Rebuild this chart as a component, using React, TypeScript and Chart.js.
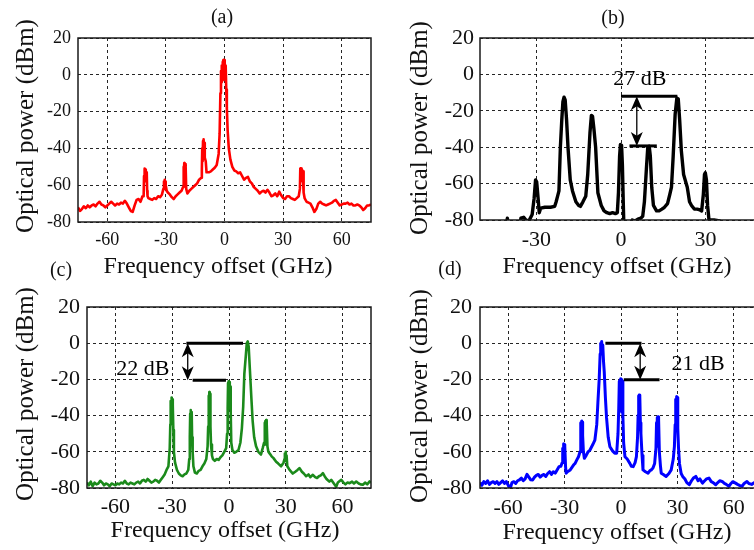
import React, { useEffect, useRef } from "react";
import { Chart, registerables } from "chart.js";

Chart.register(...registerables);

// ---------- tick labels ----------
const freqTicksWide = [-60, -30, 0, 30, 60];
const freqTicksB = [-30, 0, 30];
const powerTicks = [20, 0, -20, -40, -60, -80];

// ---------- spectra: [frequency offset (GHz), optical power (dBm)] ----------
const spectrumA: [number, number][] = [
  [-75,-72],[-74,-74],[-73,-73],[-72,-71.5],[-71,-72.5],[-70,-71],[-69,-72],[-68,-71],[-67,-70.5],[-66,-71.5],[-65,-70],[-64,-69],[-63,-70.5],[-62,-71],[-61,-72],[-60,-71],[-59,-70],[-58,-69],[-57,-70],[-56,-71],[-55,-70],[-54,-70.5],[-53,-69.5],[-52,-70],[-51,-68.5],[-50,-70],[-49,-72],[-48,-74],[-47,-74.5],[-46,-71],[-45,-68],[-44,-67.5],[-43,-69],[-42,-66],[-41.4,-66],[-41.2,-55],[-41,-51],[-40.8,-58],[-40.6,-51.5],[-40.4,-57],[-40.2,-52],[-40,-56],[-39.8,-53],[-39.6,-63],[-39.4,-66],[-39,-67],[-38,-67.5],[-37,-68],[-36,-67],[-35,-67.5],[-34,-66],[-33,-66.5],[-32,-65],[-31.3,-62],[-31,-58],[-30.8,-62],[-30.6,-57],[-30.4,-61],[-30.2,-58],[-30,-60],[-29.6,-63],[-29,-64],[-28,-65],[-27,-66.5],[-26,-67.5],[-25,-66],[-24,-65],[-23,-64],[-22,-63],[-21.2,-61],[-21,-50],[-20.8,-57],[-20.6,-48],[-20.4,-55],[-20.2,-48.5],[-20,-54],[-19.8,-49.5],[-19.6,-62],[-19,-64.5],[-18,-63],[-17,-62],[-16,-61],[-15,-60],[-14,-59],[-13,-57],[-12,-56],[-11.6,-52],[-11.4,-40],[-11.2,-47],[-11,-36],[-10.8,-45],[-10.6,-35],[-10.4,-44],[-10.2,-37],[-10,-45],[-9.6,-47],[-9.2,-53],[-8,-53],[-7,-52.5],[-6,-51.5],[-5,-50.5],[-4,-49],[-3,-43],[-2.5,-32],[-2.1,-10],[-1.8,2],[-1.6,-4],[-1.4,5],[-1.2,-3],[-1,7],[-0.8,-2],[-0.6,8],[-0.4,-1],[-0.2,8],[0,0],[0.2,7],[0.4,-3],[0.6,5],[0.9,-8],[1.2,-18],[1.6,-30],[2.2,-40],[3,-46],[4,-50],[5,-52],[6,-52.5],[7,-53.5],[8,-53],[9,-55],[10,-57],[11,-56],[12,-55.5],[13,-58],[14,-59],[15,-61],[16,-62],[17,-63],[18,-64.5],[19,-63.5],[20,-63],[21,-64],[22,-62.5],[23,-64],[24,-66],[25,-65.5],[26,-64.5],[27,-66],[28,-63.5],[29,-65.5],[30,-67],[31,-67.5],[32,-66],[33,-66],[34,-67],[35,-67.5],[36,-68],[37,-67],[38,-66],[38.6,-62],[38.8,-51],[39,-58],[39.2,-51],[39.4,-57],[39.6,-51.5],[39.8,-56],[40,-52],[40.2,-57],[40.4,-52.5],[40.6,-64],[41,-67],[42,-69],[43,-69.5],[44,-70],[45,-72],[46,-74.5],[47,-73],[48,-70],[49,-69],[50,-70],[51,-70.5],[52,-71],[53,-70.5],[54,-70],[55,-69.5],[56,-68.5],[57,-68],[58,-69.5],[59,-71],[60,-70.5],[61,-70],[62,-70],[63,-69.5],[64,-70.5],[65,-70],[66,-71],[67,-71],[68,-70.5],[69,-71],[70,-72],[71,-73.5],[72,-72.5],[73,-71],[74,-71],[75,-70.5]
];

const spectrumB: [number, number][] = [
  [-41,-86],[-40.3,-79],[-39.7,-86],[-36,-86],[-35.5,-79],[-34.5,-78.5],[-33.5,-80.5],[-32.5,-80],[-31.5,-77],[-30.8,-68],[-30.3,-58],[-29.9,-59],[-29.4,-68],[-29,-76],[-28.5,-73.5],[-27,-73],[-25,-73],[-23.5,-72.5],[-23,-70],[-22.5,-67],[-22,-64],[-21.5,-40],[-21,-25],[-20.6,-15],[-20.2,-12.5],[-19.8,-14],[-19.3,-25],[-18.8,-40],[-18,-58],[-17.2,-64],[-16,-70],[-15,-72],[-14.4,-72.5],[-13.5,-70],[-12.5,-67],[-11.8,-55],[-11,-32],[-10.5,-22.5],[-10.1,-23],[-9.6,-30],[-9,-40],[-8.2,-65],[-7,-72],[-6,-75],[-5,-76],[-4,-76.5],[-3,-76],[-2,-76.5],[-1.3,-76],[-0.9,-65],[-0.5,-45],[-0.2,-38.5],[0.2,-39],[0.5,-50],[0.8,-70],[1.1,-88],[3,-88],[4,-80],[5,-80.5],[6,-79.5],[7,-79],[7.7,-78],[8.3,-70],[9,-52],[9.5,-40],[10,-39.5],[10.4,-45],[10.9,-62],[11.5,-72],[12.6,-75],[13.5,-75],[14.5,-74],[15.4,-73],[16.5,-71],[17.3,-66],[17.9,-62],[18.5,-45],[19.2,-22],[19.8,-13],[20.3,-13.5],[20.8,-25],[21.4,-42],[22.2,-55],[23.5,-62],[24.3,-70],[25,-72],[26,-74],[27,-74],[28,-74.5],[28.6,-75],[29.2,-66],[29.6,-55],[29.9,-54],[30.3,-58],[30.7,-72],[31.2,-80],[33,-80],[35,-80.5],[36,-86]
];

const spectrumC: [number, number][] = [
  [-75,-77],[-74,-78.5],[-73,-76.5],[-72,-79],[-71,-77],[-70,-78],[-69,-77.5],[-68,-76],[-67,-77],[-66,-78.5],[-65,-77.5],[-64,-78],[-63,-79],[-62,-77.5],[-61,-78],[-60,-78.5],[-59,-77.5],[-58,-78],[-57,-77],[-56,-77.5],[-55,-76],[-54,-77.5],[-53,-78],[-52,-77],[-51,-77.5],[-50,-78],[-49,-77],[-48,-76.5],[-47,-77.5],[-46,-76],[-45,-75.5],[-44,-76.5],[-43,-75],[-42,-76],[-41,-77],[-40,-76.5],[-39,-75.5],[-38,-76],[-37,-77],[-36,-75.5],[-35,-74],[-34,-72.5],[-33,-70],[-32,-68],[-31.3,-58],[-31,-45],[-30.8,-32],[-30.6,-44],[-30.4,-30],[-30.2,-43],[-30,-31],[-29.8,-45],[-29.6,-34],[-29.4,-48],[-29.1,-60],[-28.5,-66],[-27.5,-70],[-26.5,-72],[-25.5,-73],[-24.5,-73.5],[-23.5,-72.5],[-22.5,-72],[-21.5,-70],[-21,-64],[-20.7,-52],[-20.5,-39],[-20.3,-50],[-20.1,-37],[-19.9,-50],[-19.7,-38],[-19.5,-52],[-19.2,-60],[-18.8,-68],[-18,-71.5],[-17,-72],[-16,-70.5],[-15,-70],[-14,-68],[-13,-66.5],[-12,-64],[-11.3,-57],[-11,-46],[-10.8,-29],[-10.6,-44],[-10.4,-27],[-10.2,-44],[-10,-28],[-9.8,-46],[-9.5,-56],[-9,-62],[-8.5,-64],[-7.5,-65],[-6.5,-64],[-5.5,-64.5],[-4.5,-63],[-3.5,-62],[-2.5,-60],[-1.5,-58],[-1,-50],[-0.7,-36],[-0.5,-22],[-0.3,-35],[-0.1,-21],[0.1,-35],[0.3,-21.5],[0.5,-36],[0.7,-24],[0.9,-38],[1.2,-55],[1.8,-59],[2.8,-60.5],[3.8,-60],[5,-59],[6,-55],[6.8,-47],[7.5,-35],[8.1,-17],[8.8,-8],[9.4,0],[9.9,1],[10.4,-2],[11,-14],[11.8,-30],[12.5,-43],[13.3,-52],[14.3,-57],[15.5,-60],[16.9,-61.5],[17.8,-58],[18.5,-55],[18.8,-44],[19,-56],[19.2,-43],[19.4,-56],[19.6,-42.5],[19.8,-56],[20,-44],[20.3,-57],[20.8,-60],[21.5,-61],[22.5,-62.5],[23.5,-63.5],[24.9,-65.5],[26,-66.5],[27.5,-68],[28.8,-66],[29.3,-64],[29.5,-61],[29.7,-65],[29.9,-60],[30.1,-65],[30.4,-62],[30.8,-68],[32,-70],[33.7,-72],[35,-71],[36.2,-70],[37.2,-69],[38.5,-71],[39.5,-72],[40.7,-73.5],[42,-72.5],[43,-74],[44.3,-72.7],[45.5,-74],[46.5,-74.5],[47.5,-73.5],[48.5,-73],[49.6,-71.8],[50.5,-73.5],[51.5,-75],[53,-76.5],[54,-75.5],[55,-77],[56.6,-79.3],[57.5,-77],[59.3,-75.5],[60.5,-77],[61.5,-78],[62.5,-77],[63.7,-77.3],[65,-76.5],[66,-77.5],[67.2,-76.4],[68.5,-77.5],[69.5,-78],[70.7,-78.2],[72,-77],[73,-78],[74.2,-76.4],[75,-77]
];

const spectrumD: [number, number][] = [
  [-75,-77],[-74,-78.5],[-73,-76.5],[-72,-77.5],[-71,-76],[-70,-78],[-69,-77],[-68,-76.5],[-67,-77.5],[-66,-76.5],[-65,-78],[-64,-77],[-63,-76],[-62,-77.5],[-61,-76.5],[-60,-78.5],[-59,-80.5],[-58,-77],[-57,-76.5],[-56,-77.5],[-55,-76],[-54,-75.5],[-53,-74.5],[-52,-76],[-51,-75],[-50,-72.5],[-49,-74],[-48,-75.5],[-47,-75.6],[-46,-74],[-45,-73],[-44,-72.5],[-43,-74],[-42,-73],[-41,-72.5],[-40,-73.6],[-39,-72],[-38,-71],[-37,-72.5],[-36,-71],[-35,-71.8],[-34,-70],[-33,-68.2],[-32,-68],[-31.3,-66],[-31,-58],[-30.8,-62],[-30.6,-55.5],[-30.4,-62],[-30.2,-56],[-30,-62],[-29.8,-57],[-29.5,-68],[-29.2,-71.8],[-28.5,-71],[-27,-70],[-26,-68.5],[-25,-67],[-24.4,-66.4],[-23.5,-64.5],[-22.6,-62.7],[-21.8,-60],[-21.5,-52],[-21.3,-44],[-21.1,-50],[-20.9,-43],[-20.7,-50],[-20.5,-43.5],[-20.3,-51],[-20,-60],[-19.5,-63.6],[-18.5,-62],[-17.5,-60],[-16.5,-59],[-15,-56],[-13.9,-53.6],[-12.9,-45],[-12.3,-33],[-11.6,-20],[-11.1,-6],[-10.8,0],[-10.5,-6],[-10.3,1],[-10,-4],[-9.7,-1],[-9.3,-10],[-8.9,-16],[-8.3,-30],[-7.7,-41],[-6.8,-52],[-5.9,-57.2],[-4.5,-59.5],[-3.3,-60.8],[-2.3,-60.8],[-1.6,-50],[-1.2,-36],[-0.9,-21],[-0.7,-36],[-0.5,-20.5],[-0.3,-37],[-0.1,-19.7],[0.1,-37],[0.3,-20],[0.5,-38],[0.7,-21],[1,-40],[1.4,-55],[2.1,-62.7],[3.3,-64],[4.7,-66.4],[5.5,-68],[6.5,-68.2],[7.5,-66],[8.2,-62.7],[8.8,-52],[9.1,-40],[9.3,-29],[9.5,-42],[9.7,-28.6],[9.9,-43],[10.1,-29],[10.3,-44],[10.6,-50],[11.2,-62],[11.7,-70],[13,-71],[14.4,-71.8],[15.3,-70.5],[16.1,-70],[17,-69],[17.9,-66.4],[18.6,-58],[18.9,-44],[19.1,-57],[19.3,-41],[19.5,-57],[19.7,-40.6],[19.9,-57],[20.1,-42],[20.4,-60],[21,-68],[21.4,-71.8],[22.5,-72.5],[24,-73.6],[25.5,-72],[26.7,-70],[27.8,-64],[28.4,-57.2],[28.8,-45],[29.1,-31],[29.3,-46],[29.5,-29.5],[29.7,-46],[29.9,-30],[30.2,-47],[30.6,-58],[31.1,-66.4],[32,-72],[32.8,-73.6],[34,-75],[35,-77],[36.3,-78.2],[37.5,-76],[38.5,-74.5],[39.8,-73.6],[41,-76],[42,-75],[43.3,-77.3],[44.5,-76],[45.5,-75],[46.8,-74.5],[48,-76.5],[49,-77],[50.4,-78.2],[51.5,-77],[52.5,-76],[53.8,-76.4],[55,-77.5],[56,-78],[57.4,-79.1],[58.5,-77.5],[59.5,-76.5],[60.9,-77.3],[62,-78],[63,-78.5],[64.4,-79.1],[65.5,-77.5],[67,-76.4],[68,-77.5],[69.5,-78],[71,-77],[72.5,-76.5],[74,-78],[75,-77.5]
];

// ---------- annotations (data units) ----------
const annotationB = { top: -12, topFrom: 0, topTo: 20, bottom: -39.3, botFrom: 3, botTo: 12.7, arrowX: 5.6, text: "27 dB", textX: 6.7, textY: -5.8 };
const annotationC = { top: 0, topFrom: -22.5, topTo: 7.4, bottom: -20.5, botFrom: -19.2, botTo: -1.6, arrowX: -21.8, text: "22 dB", textX: -45.5, textY: -17.6 };
const annotationD = { top: 0, topFrom: -8.3, topTo: 10.9, bottom: -20.2, botFrom: 1.5, botTo: 20.5, arrowX: 10.2, text: "21 dB", textX: 41, textY: -14.8 };

const SERIF = '"Liberation Serif", "Times New Roman", serif';
const X_TITLE = "Frequency offset (GHz)";
const Y_TITLE = "Optical power (dBm)";

type Ann = typeof annotationB;
type Panel = {
  data: [number, number][]; color: string; lw: number;
  xMin: number; xMax: number; xTicks: number[];
  left: number; top: number; w: number; h: number;
  area: { left: number; top: number; right: number; bottom: number };
  tickSize: number; xPad: number; yPad: number;
  label: string; labelPos: [number, number];
  xTitlePos: [number, number]; yTitlePos: [number, number];
  ann: Ann | null;
};

const PANELS: Panel[] = [
  { data: spectrumA, color: "#ff0000", lw: 2.6, xMin: -75, xMax: 75, xTicks: freqTicksWide,
    left: 0, top: 0, w: 377, h: 290, area: { left: 78, top: 38, right: 371, bottom: 222 },
    tickSize: 18, xPad: 7, yPad: 7, label: "(a)", labelPos: [222, 23],
    xTitlePos: [218, 273], yTitlePos: [33, 126], ann: null },
  { data: spectrumB, color: "#000000", lw: 3.4, xMin: -50, xMax: 50, xTicks: freqTicksB,
    left: 377, top: 0, w: 400, h: 290, area: { left: 103, top: 38, right: 385, bottom: 220 },
    tickSize: 22, xPad: 7, yPad: 6, label: "(b)", labelPos: [236, 24],
    xTitlePos: [240, 273], yTitlePos: [50, 128], ann: annotationB },
  { data: spectrumC, color: "#1b8a1b", lw: 2.6, xMin: -75, xMax: 75, xTicks: freqTicksWide,
    left: 0, top: 250, w: 377, h: 300, area: { left: 87, top: 57, right: 371, bottom: 238 },
    tickSize: 22, xPad: 6, yPad: 7, label: "(c)", labelPos: [61, 26],
    xTitlePos: [225, 287], yTitlePos: [33, 144], ann: annotationC },
  { data: spectrumD, color: "#0000ff", lw: 3, xMin: -75, xMax: 75, xTicks: freqTicksWide,
    left: 377, top: 250, w: 400, h: 300, area: { left: 103, top: 57, right: 385, bottom: 238 },
    tickSize: 22, xPad: 7, yPad: 8, label: "(d)", labelPos: [73, 25],
    xTitlePos: [240, 289], yTitlePos: [50, 146], ann: annotationD },
];

function drawAnnotation(chart: any, a: Ann) {
  const { ctx } = chart;
  const xs = chart.scales.x, ys = chart.scales.y;
  const px = (v: number) => xs.getPixelForValue(v);
  const py = (v: number) => ys.getPixelForValue(v);
  ctx.save();
  ctx.strokeStyle = "#000";
  ctx.fillStyle = "#000";
  ctx.lineWidth = 3;
  ctx.beginPath();
  ctx.moveTo(px(a.topFrom), py(a.top));
  ctx.lineTo(px(a.topTo), py(a.top));
  ctx.stroke();
  ctx.beginPath();
  ctx.moveTo(px(a.botFrom), py(a.bottom));
  ctx.lineTo(px(a.botTo), py(a.bottom));
  ctx.stroke();
  const x = px(a.arrowX), y1 = py(a.top), y2 = py(a.bottom);
  const L = 14, W = 6;
  ctx.lineWidth = 1.3;
  ctx.beginPath();
  ctx.moveTo(x, y1 + L * 0.6);
  ctx.lineTo(x, y2 - L * 0.6);
  ctx.stroke();
  ctx.beginPath();
  ctx.moveTo(x, y1); ctx.lineTo(x - W, y1 + L); ctx.lineTo(x, y1 + L * 0.72); ctx.lineTo(x + W, y1 + L);
  ctx.closePath(); ctx.fill();
  ctx.beginPath();
  ctx.moveTo(x, y2); ctx.lineTo(x - W, y2 - L); ctx.lineTo(x, y2 - L * 0.72); ctx.lineTo(x + W, y2 - L);
  ctx.closePath(); ctx.fill();
  ctx.font = `22px ${SERIF}`;
  ctx.textAlign = "center";
  ctx.textBaseline = "alphabetic";
  ctx.fillText(a.text, px(a.textX), py(a.textY));
  ctx.restore();
}

function makeOverlay(p: Panel) {
  return {
    id: "overlay",
    afterDraw(chart: any) {
      const { ctx, chartArea } = chart;
      ctx.save();
      ctx.strokeStyle = "#1a1a1a";
      ctx.lineWidth = 1.5;
      ctx.strokeRect(chartArea.left, chartArea.top, chartArea.right - chartArea.left, chartArea.bottom - chartArea.top);
      ctx.restore();
      if (p.ann) drawAnnotation(chart, p.ann);
      ctx.save();
      ctx.fillStyle = "#111";
      ctx.textBaseline = "alphabetic";
      ctx.textAlign = "center";
      ctx.font = `20px ${SERIF}`;
      ctx.fillText(p.label, p.labelPos[0], p.labelPos[1]);
      ctx.font = `24px ${SERIF}`;
      ctx.fillText(X_TITLE, p.xTitlePos[0], p.xTitlePos[1]);
      ctx.translate(p.yTitlePos[0], p.yTitlePos[1]);
      ctx.rotate(-Math.PI / 2);
      ctx.font = `25px ${SERIF}`;
      ctx.fillText(Y_TITLE, 0, 0);
      ctx.restore();
    },
  };
}

function PanelChart({ p }: { p: Panel }) {
  const ref = useRef<HTMLCanvasElement | null>(null);
  useEffect(() => {
    if (!ref.current) return;
    const tickFont = { family: SERIF, size: p.tickSize };
    const chart = new Chart(ref.current, {
      type: "line",
      data: {
        datasets: [{
          data: p.data.map(([f, v]) => ({ x: f, y: v })),
          borderColor: p.color,
          borderWidth: p.lw,
          pointRadius: 0,
          tension: 0,
          fill: false,
          borderJoinStyle: "round",
        }],
      },
      options: {
        animation: false,
        responsive: false,
        maintainAspectRatio: false,
        events: [],
        layout: { padding: { left: 0, top: p.area.top, right: p.w - p.area.right, bottom: 0 } },
        plugins: { legend: { display: false }, tooltip: { enabled: false }, title: { display: false } },
        scales: {
          x: {
            type: "linear",
            min: p.xMin,
            max: p.xMax,
            afterFit: (s: any) => { s.height = p.h - p.area.bottom; },
            afterBuildTicks: (s: any) => { s.ticks = p.xTicks.map((v) => ({ value: v })); },
            ticks: { font: tickFont, color: "#111", padding: p.xPad, autoSkip: false, maxRotation: 0, callback: (v: any) => String(v) },
            grid: { color: "rgba(0,0,0,0.85)", lineWidth: 1, drawTicks: false },
            border: { display: false, dash: [3, 3] },
          },
          y: {
            type: "linear",
            min: -80,
            max: 20,
            afterFit: (s: any) => { s.width = p.area.left; },
            afterBuildTicks: (s: any) => { s.ticks = powerTicks.map((v) => ({ value: v })); },
            ticks: { font: tickFont, color: "#111", padding: p.yPad, callback: (v: any) => String(v) },
            grid: { color: "rgba(0,0,0,0.85)", lineWidth: 1, drawTicks: false },
            border: { display: false, dash: [3, 3] },
          },
        },
      } as any,
      plugins: [makeOverlay(p)],
    });
    return () => chart.destroy();
  }, [p]);
  return (
    <canvas
      ref={ref}
      width={p.w}
      height={p.h}
      style={{ position: "absolute", left: p.left, top: p.top, width: p.w, height: p.h }}
    />
  );
}

export default function App() {
  return (
    <div style={{ position: "fixed", left: 0, top: 0, width: 754, height: 550, overflow: "hidden", background: "#fff" }}>
      {PANELS.map((p, i) => (
        <PanelChart key={i} p={p} />
      ))}
    </div>
  );
}
